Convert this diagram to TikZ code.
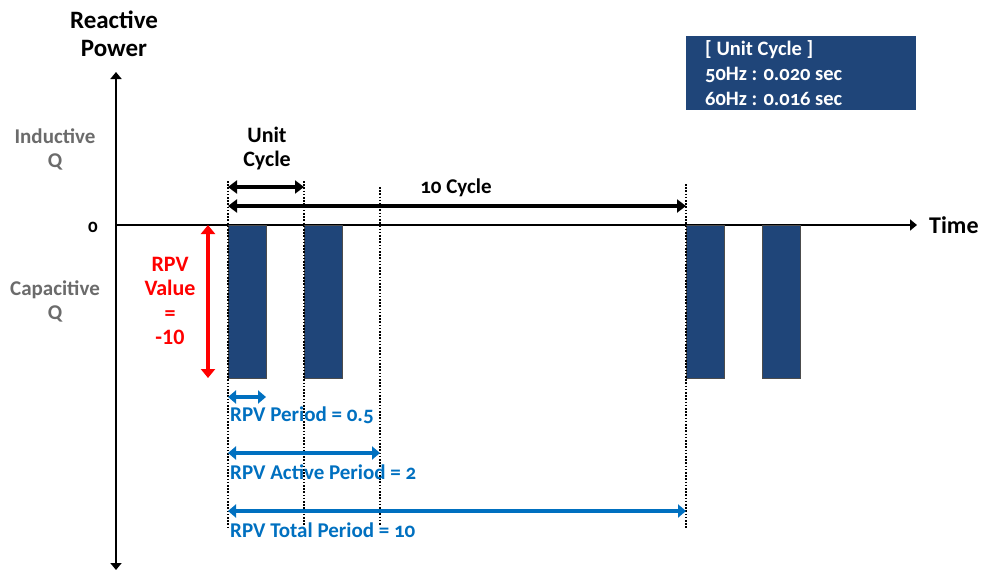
\documentclass[tikz,border=0pt]{standalone}
\usepackage{fontspec}
\setmainfont{Carlito}[Numbers=OldStyle]
\usetikzlibrary{arrows.meta}
\definecolor{barblue}{HTML}{1F4579}
\definecolor{rpvblue}{HTML}{0070C0}
\definecolor{labgray}{HTML}{6B6B6B}
\definecolor{rpvred}{HTML}{FF0000}
\tikzset{
  lbl/.style={font=\bfseries\fontsize{21}{24}\selectfont, align=center, inner sep=0pt},
  axis/.style={line width=2.6pt, -{Triangle[length=7pt,width=11pt]}},
  barbox/.style={fill=barblue, draw=black!70, line width=0.6pt},
  guide/.style={line width=1.2pt, dash pattern=on 1.6pt off 1.6pt},
  blk/.style={line width=3.6pt, {Triangle[length=9pt,width=13pt]}-{Triangle[length=9pt,width=13pt]}},
  blu/.style={line width=3.8pt, draw=rpvblue, {Triangle[length=8pt,width=13pt]}-{Triangle[length=8pt,width=13pt]}},
  redarr/.style={line width=4pt, draw=rpvred, {Triangle[length=9pt,width=14pt]}-{Triangle[length=9pt,width=14pt]}},
  blulbl/.style={font=\bfseries\fontsize{21}{24}\selectfont, text=rpvblue, anchor=west, inner sep=0pt},
}
\begin{document}
\begin{tikzpicture}[x=1pt,y=-1pt]
\useasboundingbox (0,0) rectangle (990,570);
% axes
\coordinate (o) at (116,225);
\coordinate (ytop) at (116,72);
\coordinate (ybot) at (116,570);
\coordinate (xend) at (917,225);
\draw[axis] (o) -- (ytop);
\draw[axis] (o) -- (ybot);
\draw[axis] (o) -- (xend);
\node[lbl, font=\bfseries\fontsize{25}{28}\selectfont] (yl) at (114,34) {Reactive\\Power};
\node[lbl, font=\bfseries\fontsize{24}{28}\selectfont, anchor=west] (xl) at (929,225) {Time};
\node[lbl, font=\bfseries\fontsize{19}{22}\selectfont] (zero) at (93,227) {0};
\node[lbl, text=labgray, font=\bfseries\fontsize{21}{24}\selectfont] (ind) at (55,149) {Inductive\\Q};
\node[lbl, text=labgray, font=\bfseries\fontsize{21}{24}\selectfont] (cap) at (55,301) {Capacitive\\Q};
% bars
\node[barbox, minimum width=38pt, minimum height=153pt, inner sep=0pt, anchor=north west] (b1) at (228,225) {};
\node[barbox, minimum width=38pt, minimum height=153pt, inner sep=0pt, anchor=north west] (b2) at (304,225) {};
\node[barbox, minimum width=38pt, minimum height=153pt, inner sep=0pt, anchor=north west] (b3) at (686,225) {};
\node[barbox, minimum width=38pt, minimum height=153pt, inner sep=0pt, anchor=north west] (b4) at (762,225) {};
% guides
\coordinate (g1t) at (228,181); \coordinate (g1b) at (228,528);
\coordinate (g2t) at (304,181); \coordinate (g2b) at (304,526);
\coordinate (g3t) at (380,187); \coordinate (g3b) at (380,526);
\coordinate (g4t) at (686,184); \coordinate (g4b) at (686,528);
\draw[guide] (g1t) -- (g1b);
\draw[guide] (g2t) -- (g2b);
\draw[guide] (g3t) -- (g3b);
\draw[guide] (g4t) -- (g4b);
% black arrows
\coordinate (u1) at (228,187); \coordinate (u2) at (304,187);
\draw[blk] (u1) -- (u2);
\node[lbl, font=\bfseries\fontsize{22}{24}\selectfont] (ul) at (267,149) {Unit\\Cycle};
\coordinate (c1) at (228,206); \coordinate (c2) at (686,206);
\draw[blk] (c1) -- (c2);
\node[lbl] (cl) at (456,188) {10 Cycle};
% red arrow
\coordinate (r1) at (208,225); \coordinate (r2) at (208,378);
\draw[redarr] (r1) -- (r2);
\node[lbl, text=rpvred, font=\bfseries\fontsize{22}{24.5}\selectfont] (rl) at (170,301) {RPV\\Value\\=\\{\addfontfeature{Numbers=Lining}-10}};
% blue arrows
\coordinate (p1) at (228,397); \coordinate (p2) at (266,397);
\draw[blu] (p1) -- (p2);
\node[blulbl] (pl) at (230,415) {RPV Period = 0.5};
\coordinate (a1) at (228,453); \coordinate (a2) at (380,453);
\draw[blu] (a1) -- (a2);
\node[blulbl] (al) at (230,472) {RPV Active Period = 2};
\coordinate (t1) at (228,511); \coordinate (t2) at (686,511);
\draw[blu] (t1) -- (t2);
\node[blulbl] (tl) at (230,530) {RPV Total Period = 10};
% info box
\node[fill=barblue, minimum width=230pt, minimum height=74pt, inner sep=0pt, anchor=north west] (box) at (686,36) {};
\node[anchor=west, text=white, align=left, inner sep=0pt, font=\bfseries\fontsize{20.5}{25}\selectfont] (boxt) at (705,73) {[ Unit Cycle ]\\50Hz : 0.020 sec\\60Hz : 0.016 sec};
\end{tikzpicture}
\end{document}
